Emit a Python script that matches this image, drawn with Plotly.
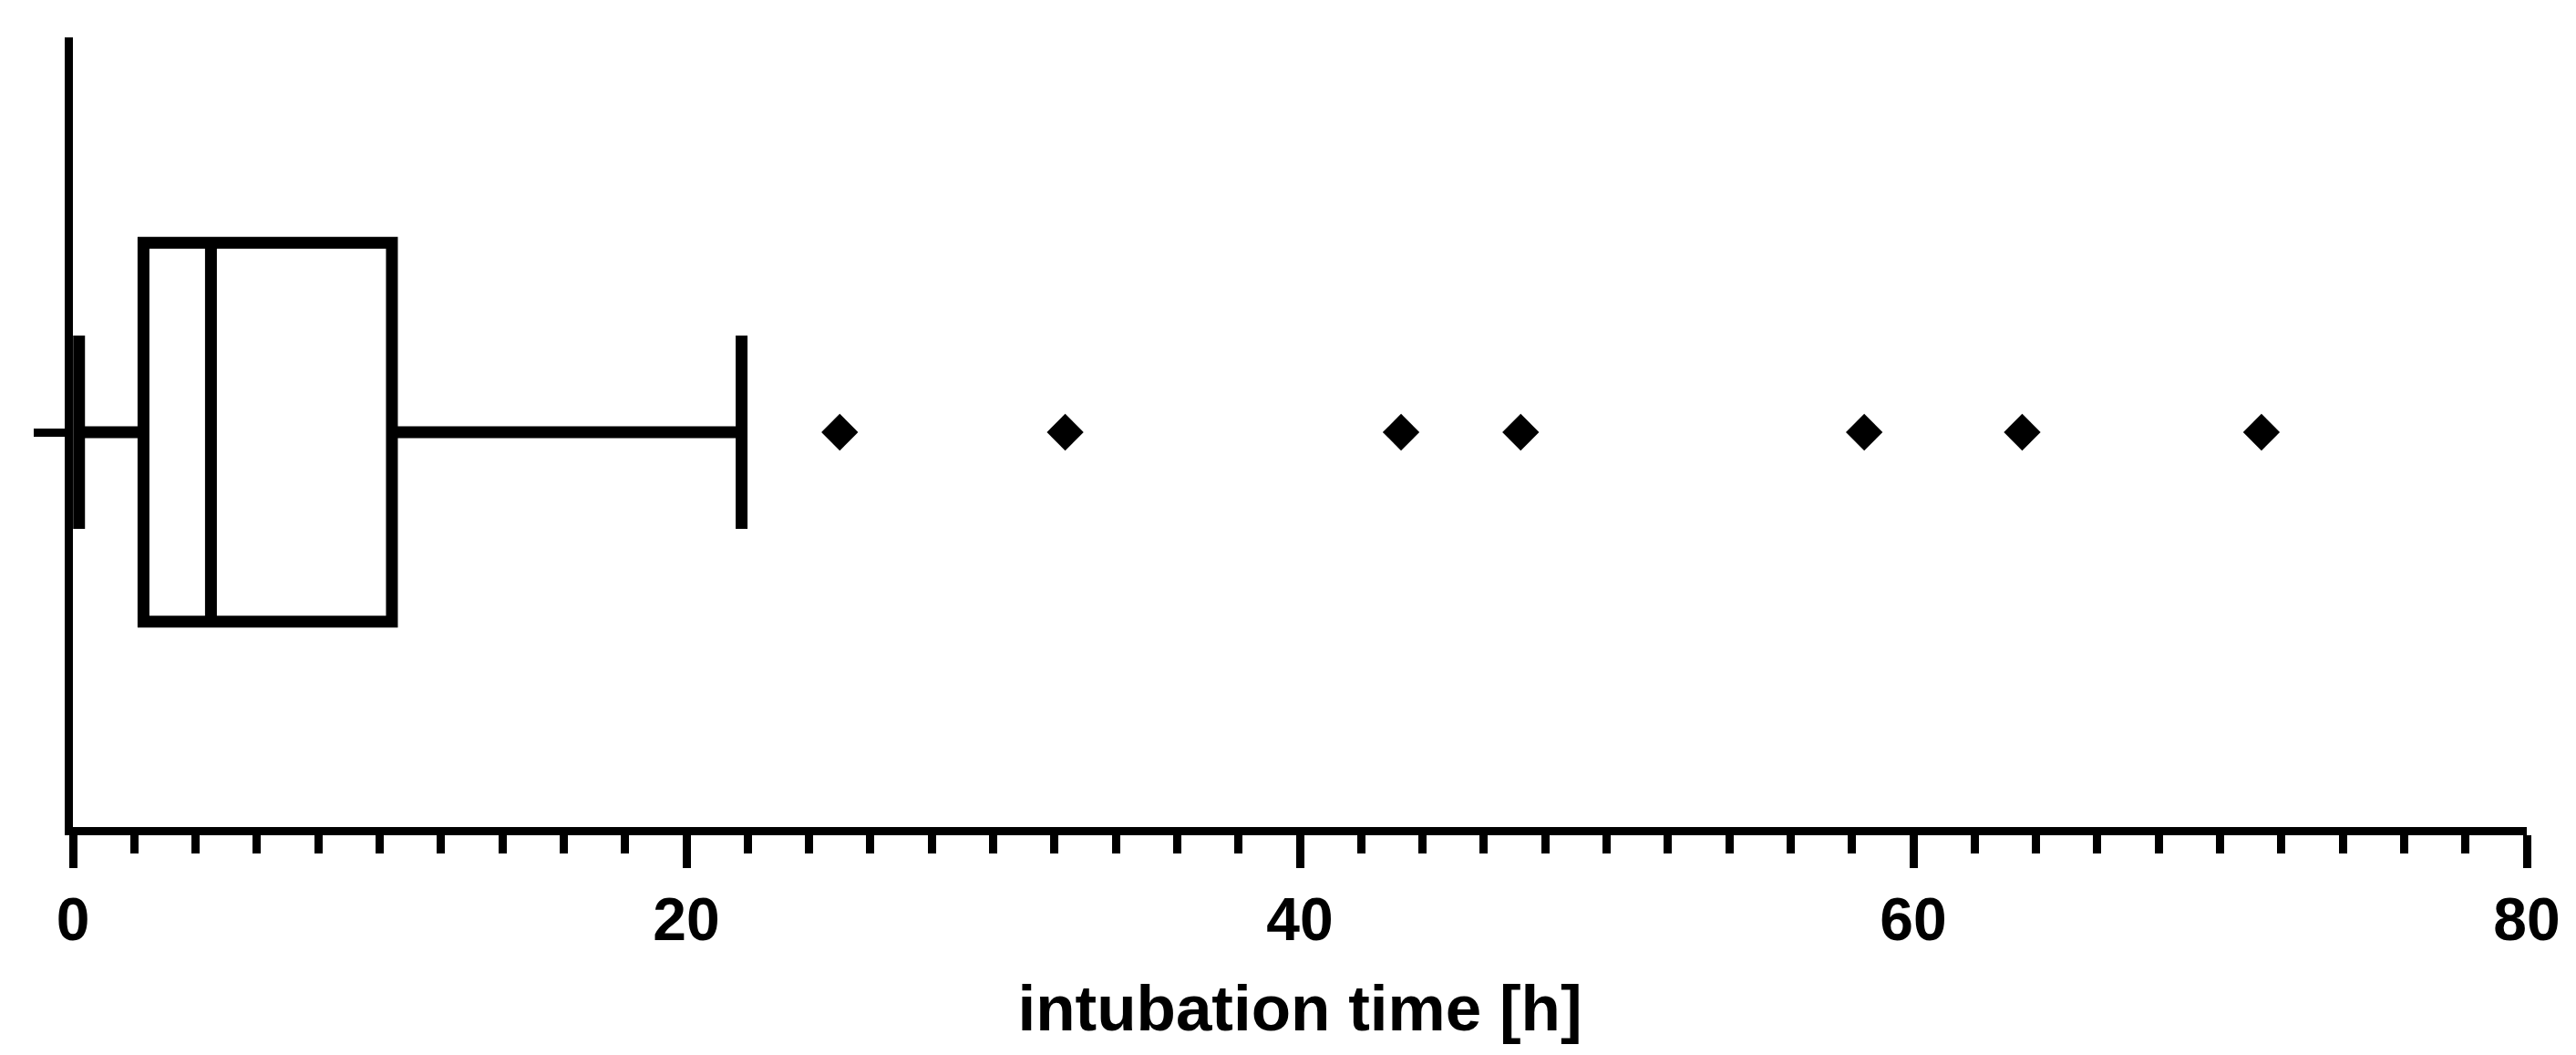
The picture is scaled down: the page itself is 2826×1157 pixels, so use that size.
import plotly.graph_objects as go

# box summary of intubation time [h]
lower_fence = [0.2]
q1 = [2.3]
median = [4.5]
q3 = [10.4]
upper_fence = [21.8]

# values beyond the upper whisker
outliers = [25.0, 32.35, 43.3, 47.2, 58.4, 63.55, 71.35]

x_ticks = [0, 20, 40, 60, 80]

fig = go.Figure()

fig.add_trace(go.Box(
    y=[0],
    q1=q1,
    median=median,
    q3=q3,
    lowerfence=lower_fence,
    upperfence=upper_fence,
    orientation='h',
    width=0.96,
    whiskerwidth=0.51,
    boxpoints=False,
    fillcolor='white',
    line=dict(color='black', width=13),
    showlegend=False
))

fig.add_trace(go.Scatter(
    x=outliers,
    y=[0] * len(outliers),
    mode='markers',
    marker=dict(symbol='diamond', size=31, color='black'),
    showlegend=False
))

# page body adds 8px, margins are set against that
fig.update_layout(
    width=2826,
    height=1157,
    margin=dict(l=72, r=62, t=33, b=258),
    paper_bgcolor='white',
    plot_bgcolor='white',
    font=dict(family='Liberation Sans, Arial, sans-serif', color='black'),
    xaxis=dict(
        range=[0, 80],
        tickvals=x_ticks,
        ticks='outside',
        ticklen=36,
        tickwidth=9,
        tickcolor='black',
        showline=True,
        linewidth=9,
        linecolor='black',
        showgrid=False,
        zeroline=False,
        tickfont=dict(size=66, weight='bold'),
        minor=dict(dtick=2, ticks='outside', ticklen=20, tickwidth=9,
                   tickcolor='black', showgrid=False),
        title=dict(text='intubation time [h]',
                   font=dict(size=71, weight='bold'), standoff=40)
    ),
    yaxis=dict(
        range=[-1, 1],
        tickvals=[0],
        showticklabels=False,
        ticks='outside',
        ticklen=34,
        tickwidth=9,
        tickcolor='black',
        showline=True,
        linewidth=9,
        linecolor='black',
        showgrid=False,
        zeroline=False
    )
)

fig.write_html("out.html")
